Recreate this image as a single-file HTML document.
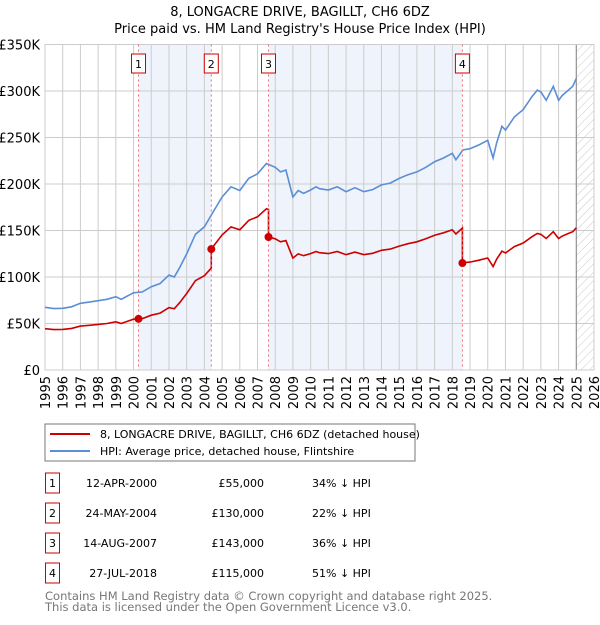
<!DOCTYPE html>
<html><head><meta charset="utf-8"><style>
body{margin:0;background:#fff;font-family:"Liberation Sans","DejaVu Sans",sans-serif;}
svg text{font-family:"DejaVu Sans","Liberation Sans",sans-serif;}
</style></head><body>
<svg id="chart" width="600" height="620" viewBox="0 0 600 620" xmlns="http://www.w3.org/2000/svg">
<defs><pattern id="hatch" width="6" height="6" patternUnits="userSpaceOnUse" patternTransform="rotate(45)"><line x1="0" y1="0" x2="0" y2="6" stroke="#bbb" stroke-width="0.8"/></pattern></defs>
<text x="300" y="16" text-anchor="middle" font-size="13">8, LONGACRE DRIVE, BAGILLT, CH6 6DZ</text>
<text x="300" y="33" text-anchor="middle" font-size="13">Price paid vs. HM Land Registry's House Price Index (HPI)</text>
<g id="shade"></g><g id="grid"></g><g id="lines"></g><g id="marks"></g><g id="axes"></g>
<rect x="45" y="424" width="370" height="37" fill="#fff" stroke="#777"/>
<line x1="50" y1="434" x2="90" y2="434" stroke="#cc0000" stroke-width="2"/>
<text x="100" y="438" font-size="11">8, LONGACRE DRIVE, BAGILLT, CH6 6DZ (detached house)</text>
<line x1="50" y1="451" x2="90" y2="451" stroke="#5b8ed6" stroke-width="2"/>
<text x="100" y="455" font-size="11">HPI: Average price, detached house, Flintshire</text>
<g id="table" font-size="11"></g>
<text x="45" y="600" font-size="11.5" fill="#777">Contains HM Land Registry data © Crown copyright and database right 2025.</text>
<text x="45" y="611" font-size="11.5" fill="#777">This data is licensed under the Open Government Licence v3.0.</text>
</svg>
<script>
const hpiYears=[1995,1995.5,1996,1996.5,1997,1997.5,1998,1998.5,1999,1999.3,1999.6,2000,2000.5,2001,2001.5,2002,2002.3,2002.6,2003,2003.5,2004,2004.5,2005,2005.5,2006,2006.5,2007,2007.5,2008,2008.3,2008.6,2009,2009.3,2009.6,2010,2010.3,2010.5,2011,2011.5,2012,2012.5,2013,2013.5,2014,2014.5,2015,2015.5,2016,2016.5,2017,2017.5,2018,2018.2,2018.6,2019,2019.5,2020,2020.3,2020.5,2020.8,2021,2021.5,2022,2022.5,2022.8,2023,2023.3,2023.7,2024,2024.2,2024.5,2024.8,2025];
const hpiValues=[67.4,66,66.3,68,71.7,73,74.5,76,78.8,76,79,83,84,89.6,93,102,100,110,125,146,154,170,186,197,193,206,211,222,218,213,215,186,193,190,193.5,197,195,193.5,197,191.7,196,191.7,194,199,201,206,210,213,218,224,228,233,226,236.6,238,242,247,228,244,262,258,272,280,294,301,299,290,305,290,295,300,305,313.6];
const saleYears=[2000.28,2004.39,2007.62,2018.57];
const salePrices=[55,130,143,115];
const saleLabels=["1","2","3","4"];
const saleDates=["12-APR-2000","24-MAY-2004","14-AUG-2007","27-JUL-2018"];
const salePriceText=["£55,000","£130,000","£143,000","£115,000"];
const saleHpiText=["34% ↓ HPI","22% ↓ HPI","36% ↓ HPI","51% ↓ HPI"];
const yTicks=[0,50,100,150,200,250,300,350];
const yTickLabels=["£0","£50K","£100K","£150K","£200K","£250K","£300K","£350K"];
const xTicks=[1995,1996,1997,1998,1999,2000,2001,2002,2003,2004,2005,2006,2007,2008,2009,2010,2011,2012,2013,2014,2015,2016,2017,2018,2019,2020,2021,2022,2023,2024,2025,2026];

const X0=45,X1=594,Y0=370,Y1=44.5,xmin=1995,xmax=2026,ymax=350;
const xs=v=>X0+(v-xmin)/(xmax-xmin)*(X1-X0);
const ys=v=>Y0-v/ymax*(Y0-Y1);
const NS="http://www.w3.org/2000/svg";
function mk(tag,attrs,parent,txt){const e=document.createElementNS(NS,tag);for(const k in attrs)e.setAttribute(k,attrs[k]);if(txt!==undefined)e.textContent=txt;document.getElementById(parent).appendChild(e);return e;}
function hpiAt(t){for(let i=0;i<hpiYears.length-1;i++){if(t<=hpiYears[i+1]){const f=(t-hpiYears[i])/(hpiYears[i+1]-hpiYears[i]);return hpiValues[i]+f*(hpiValues[i+1]-hpiValues[i]);}}return hpiValues[hpiValues.length-1];}

// shading
for(let i=0;i<saleYears.length;i+=2){const a=saleYears[i],b=i+1<saleYears.length?saleYears[i+1]:2025;
const r=mk('rect',{x:xs(a),y:Y1,width:xs(b)-xs(a),height:Y0-Y1,fill:'#eef3fc'},'shade');

}
const h=mk('rect',{x:xs(2025),y:Y1,width:X1-xs(2025),height:Y0-Y1,fill:'url(#hatch)'},'shade');


// grid
yTicks.forEach((v,i)=>{const l=mk('line',{x1:X0,x2:X1,y1:ys(v),y2:ys(v),stroke:'#ccc'},'grid');


const t=mk('text',{x:40,y:ys(v)+5,'text-anchor':'end','font-size':13},'axes',yTickLabels[i]);

});
xTicks.forEach(v=>{const l=mk('line',{x1:xs(v),x2:xs(v),y1:Y1,y2:Y0,stroke:'#ccc'},'grid');


const t=mk('text',{x:0,y:0,'text-anchor':'end','font-size':13,transform:`translate(${xs(v)+5},376) rotate(-90)`},'axes',String(v));

});
const vl=mk('line',{x1:xs(2025),x2:xs(2025),y1:Y1,y2:Y0,stroke:'#888'},'grid');


const fr=mk('rect',{x:X0,y:Y1,width:X1-X0,height:Y0-Y1,fill:'none',stroke:'#ccc'},'grid');


// HPI line
let d='';hpiYears.forEach((t,i)=>{d+=(i?'L':'M')+xs(t).toFixed(1)+','+ys(hpiValues[i]).toFixed(1);});
const hp=mk('path',{d:d,fill:'none',stroke:'#5b8ed6','stroke-width':1.6},'lines');


// property line
const ratios=saleYears.map((t,i)=>salePrices[i]/hpiAt(t));
function ratioAt(t){let k=0;for(let i=0;i<saleYears.length;i++)if(t>=saleYears[i])k=i;return ratios[k];}
let pts=[];hpiYears.forEach((t,i)=>pts.push([t,hpiValues[i]*ratioAt(t)]));
saleYears.forEach((t,i)=>{if(i>0)pts.push([t-0.001,hpiAt(t)*ratios[i-1]]);pts.push([t,salePrices[i]]);});
pts.sort((a,b)=>a[0]-b[0]);
let d2='';pts.forEach((p,i)=>{d2+=(i?'L':'M')+xs(p[0]).toFixed(1)+','+ys(p[1]).toFixed(1);});
const pp=mk('path',{d:d2,fill:'none',stroke:'#cc0000','stroke-width':1.6},'lines');


// sale markers
saleYears.forEach((t,i)=>{
const l=mk('line',{x1:xs(t),x2:xs(t),y1:Y1,y2:Y0,stroke:'#f07070','stroke-dasharray':'2,3'},'marks');


const b=mk('rect',{x:xs(t)-7,y:54,width:14,height:19,fill:'#fff',stroke:'#cc0000'},'marks');


const tx=mk('text',{x:xs(t),y:68,'text-anchor':'middle','font-size':11},'marks',saleLabels[i]);


const c=mk('circle',{cx:xs(t),cy:ys(salePrices[i]),r:4,fill:'#cc0000'},'marks');


// table
const ry=473+i*30;
const tb=mk('rect',{x:45.5,y:ry,width:14,height:20,fill:'#fff',stroke:'#cc0000'},'table');


const t1=mk('text',{x:52.5,y:ry+14,'text-anchor':'middle'},'table',saleLabels[i]);


const t2=mk('text',{x:157,y:ry+14,'text-anchor':'end'},'table',saleDates[i]);


const t3=mk('text',{x:264,y:ry+14,'text-anchor':'end'},'table',salePriceText[i]);


const t4=mk('text',{x:312,y:ry+14},'table',saleHpiText[i]);


});
</script>
</body></html>
